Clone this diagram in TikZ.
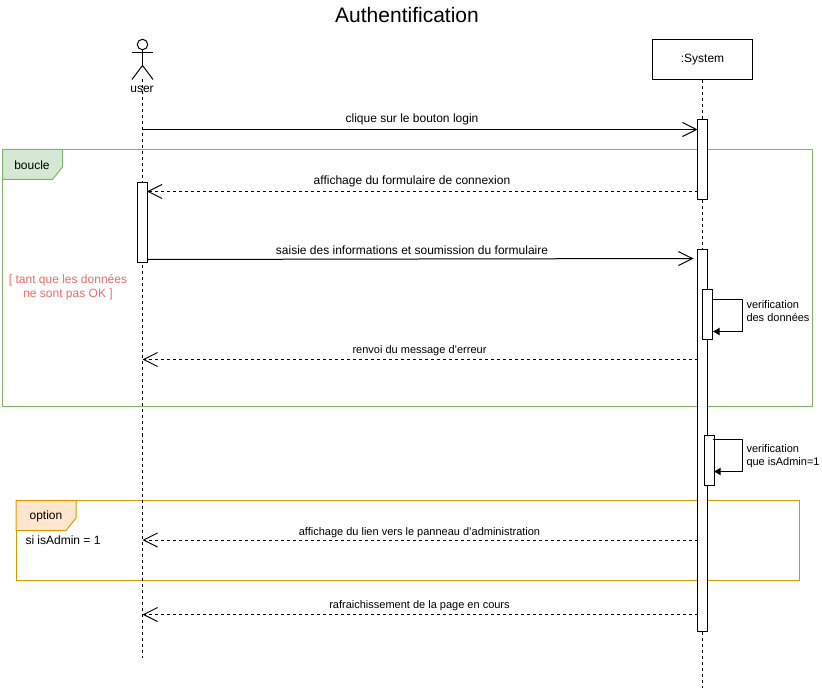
\documentclass[tikz,border=0pt]{standalone}
\usepackage{fontspec}
\setmainfont{Liberation Sans}
\usetikzlibrary{positioning}
\usetikzlibrary{arrows.meta}
\usetikzlibrary{calc}

\definecolor{boucleline}{HTML}{82B366}
\definecolor{bouclefill}{HTML}{D5E8D4}
\definecolor{optionline}{HTML}{D79B00}
\definecolor{optionfill}{HTML}{FFE6CC}
\definecolor{gardetext}{HTML}{EA6B66}

\begin{document}
\begin{tikzpicture}[
    x=1pt,
    y=-1pt,
    line width=1pt,
    font=\fontsize{12}{14}\selectfont
]
\tikzset{
    framebox/.style = {rectangle, draw, inner sep=0pt, outer sep=0pt, anchor=north west},
    acti/.style = {rectangle, draw=black, fill=white, inner sep=0pt, minimum width=10pt, outer sep=0pt},
    lifel/.style = {dash pattern=on 3pt off 3pt},
    msgn/.style = {-{Straight Barb[length=14pt,width=14pt,line width=1pt]}},
    msgr/.style = {msgn, lifel},
    msgself/.style = {-{Latex[length=7pt,width=8pt]}},
    lbl/.style = {inner sep=0pt, align=center},
    lblsmall/.style = {lbl, font=\fontsize{11}{13}\selectfont},
    selflbl/.style = {inner sep=0pt, align=left, anchor=west, font=\fontsize{11}{13}\selectfont}
}
\useasboundingbox (0,0) rectangle (822,692);

\node[lbl,font=\fontsize{21}{25}\selectfont] at (407,15) (title) {Authentification};

% frames
\node[framebox,draw=boucleline,minimum width=810pt,minimum height=257pt] at (2.5,149.5) (boucle) {};
\draw[boucleline,fill=bouclefill] (2.5,149.5) -- (62.5,149.5) -- (62.5,167) -- (52.5,179.5) -- (2.5,179.5) -- cycle;
\node[lbl] at (32,165) (boucletxt) {boucle};
\node[framebox,draw=optionline,minimum width=783.5pt,minimum height=80pt] at (16,500.5) (option) {};
\draw[optionline,fill=optionfill] (16,500.5) -- (76,500.5) -- (76,518) -- (66,530.5) -- (16,530.5) -- cycle;
\node[lbl] at (46,516) (optiontxt) {option};
\node[lbl,text=gardetext] at (68,287) (garde) {[ tant que les données\\ne sont pas OK ]};
\node[lbl,anchor=west] at (25,540.5) (condi) {si isAdmin = 1};

% actor
\node[circle,draw=black,fill=white,minimum size=10.5pt,inner sep=0pt] at (142.5,44.5) (head) {};
\coordinate (hip) at (142.5,65.5);
\draw (132,52.5) -- (153,52.5);
\draw (head.south) -- (hip);
\draw (132,79.5) -- (hip) -- (153,79.5);
\node[lbl] at (142,89) (user) {user};
\coordinate (usertop) at (142.5,79.5);
\coordinate (userend) at (142.5,658);

% system
\node[rectangle,draw=black,minimum width=100pt,minimum height=40pt,inner sep=0pt] at (702.5,59.5) (sys) {:System};
\coordinate (sysend) at (702.5,688);

\draw[lifel] (usertop) -- (userend);
\draw[lifel] (sys.south) -- (sysend);

% activations
\node[acti,minimum height=80pt] at (142,222.5) (au) {};
\node[acti,minimum height=80pt] at (702.5,159.5) (as1) {};
\node[acti,minimum height=382pt] at (702.5,440.5) (as2) {};
\node[acti,minimum height=50pt] at (707.5,314.5) (as3) {};
\node[acti,minimum height=50pt] at (709.5,460.5) (as4) {};

% messages
\coordinate (m1) at (142.5,129.5);
\coordinate (m2) at (697.5,191.5);
\coordinate (m3) at (147,259.5);
\coordinate (m3e) at (693.5,258.5);
\coordinate (m4) at (697.5,359.5);
\coordinate (m5) at (697.5,540);
\coordinate (m6) at (697.5,614.5);
\draw[msgn] (m1) -- (m1 -| as1.west);
\draw[msgr] (m2) -- (m2 -| au.east);
\draw[msgn] (m3) -- (m3e);
\draw[msgr] (m4) -- (m4 -| usertop);
\draw[msgr] (m5) -- (m5 -| usertop);
\draw[msgr] (m6) -- (m6 -| usertop);
\node[lbl] at (412,119.5) (t1) {clique sur le bouton login};
\node[lbl] at (412,181) (t2) {affichage du formulaire de connexion};
\node[lbl] at (412,250) (t3) {saisie des informations et soumission du formulaire};
\node[lblsmall] at (419.5,351) (t4) {renvoi du message d'erreur};
\node[lblsmall] at (419.5,532.5) (t5) {affichage du lien vers le panneau d'administration};
\node[lblsmall] at (419.5,606) (t6) {rafraichissement de la page en cours};

% self calls
\coordinate (c1) at (712.5,299.5);
\coordinate (c2) at (712.5,331.5);
\coordinate (c3) at (712.5,439.5);
\coordinate (c4) at (713.5,471.5);
\draw[msgself] (c1) -- (742.5,299.5) -- (742.5,331.5) -- (c2);
\draw[msgself] (c3) -- (742.5,439.5) -- (742.5,471.5) -- (c4);
\node[selflbl] at (746,311) (t7) {verification\\des données};
\node[selflbl] at (746,456) (t8) {verification\\que isAdmin=1};
\end{tikzpicture}
\end{document}
